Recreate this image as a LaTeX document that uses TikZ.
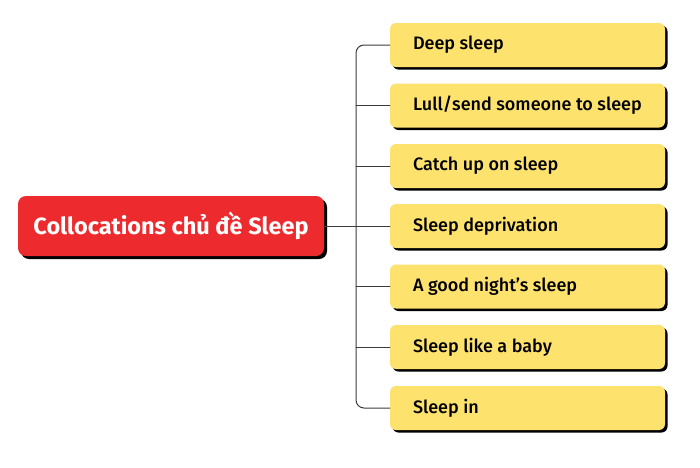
\documentclass[tikz,border=0pt]{standalone}
\usepackage{fontspec}
\setmainfont{Fira Sans}
\newfontfamily\itemfont{Fira Sans Medium}
\newfontfamily\titlefont{Fira Sans Bold}
\usetikzlibrary{shadows}
\definecolor{titlered}{RGB}{237,42,46}
\definecolor{itemyellow}{RGB}{253,226,110}
\definecolor{linegray}{RGB}{60,60,60}
\tikzset{
	titlebox/.style={fill=titlered, rounded corners=8pt, minimum width=306pt, minimum height=60pt, text=white, font=\titlefont\fontsize{23.5}{28}\selectfont, general shadow={fill=black, shadow xshift=3pt, shadow yshift=-3pt}},
	itembox/.style={fill=itemyellow, rounded corners=6pt, minimum width=275pt, minimum height=44pt, general shadow={fill=black, shadow xshift=2.5pt, shadow yshift=-2.5pt}},
	itemtext/.style={anchor=west, inner sep=0pt, font=\itemfont\fontsize{18}{22}\selectfont},
	branch/.style={draw=linegray, line width=1pt}
}
\begin{document}
\begin{tikzpicture}[x=1pt, y=-1pt, line join=round, line cap=round]
	\useasboundingbox[fill=white] (0,0) rectangle (700,467);
	\node[titlebox] (title) at (171,226) {Collocations chủ đề Sleep};
	\foreach \i/\y/\txt in {1/45/Deep sleep, 2/105.5/Lull\slash send someone to sleep, 3/166/Catch up on sleep, 4/226/Sleep deprivation, 5/286.5/A good night’s sleep, 6/347/Sleep like a baby, 7/408/Sleep in}{
		\node[itembox] (i\i) at (527.5,\y) {};
		\node[itemtext] (t\i) at ([xshift=23pt]i\i.west) {\txt};
	}
	\coordinate (T) at (356,226);
	\draw[branch, rounded corners=8pt] (i1.west) -| (T) |- (i7.west);
	\foreach \i in {2,...,6}
		\draw[branch] (T |- i\i.west) -- (i\i.west);
	\draw[branch] (title.east) -- (T);
\end{tikzpicture}
\end{document}
